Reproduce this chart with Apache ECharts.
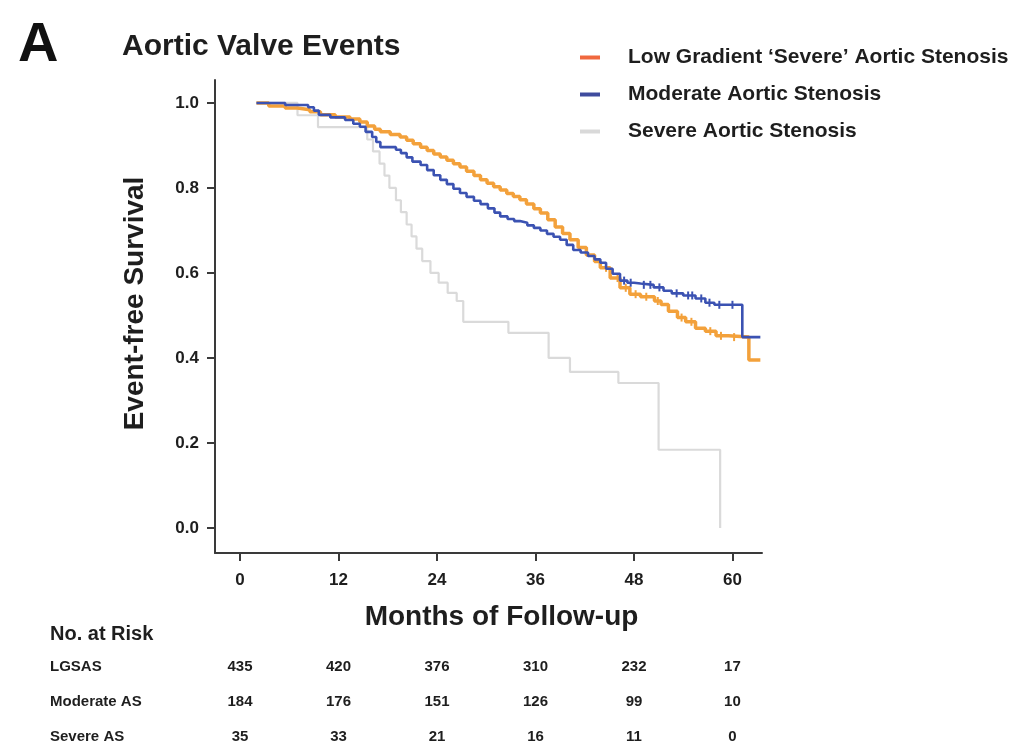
<!DOCTYPE html>
<html>
<head>
<meta charset="utf-8">
<title>Aortic Valve Events</title>
<script src="https://cdn.jsdelivr.net/npm/echarts@6/dist/echarts.min.js"></script>
<style>
  html, body { margin: 0; padding: 0; background: #ffffff; }
  #chart { width: 1017px; height: 747px; }
</style>
</head>
<body>
<div id="chart"></div>
<script>
// Kaplan-Meier step points: [month, event-free survival]
const lgsasCurve = [
  [2.0, 1.0], [3.5, 0.993], [5.5, 0.988], [7.0, 0.984], [8.5, 0.979], [9.8, 0.972],
  [11.6, 0.967], [13.4, 0.962], [14.6, 0.955], [15.5, 0.946], [16.4, 0.938], [17.1, 0.932],
  [18.3, 0.926], [19.5, 0.92], [20.3, 0.912], [21.1, 0.904], [22.0, 0.896], [22.8, 0.888],
  [23.6, 0.88], [24.4, 0.873], [25.2, 0.865], [26.0, 0.857], [26.8, 0.849], [27.6, 0.839],
  [28.5, 0.829], [29.3, 0.819], [30.1, 0.811], [30.9, 0.803], [31.7, 0.795], [32.5, 0.787],
  [33.3, 0.78], [34.1, 0.772], [34.9, 0.762], [35.8, 0.751], [36.6, 0.741], [37.5, 0.725],
  [38.4, 0.708], [39.3, 0.693], [40.2, 0.678], [41.2, 0.66], [42.2, 0.642], [43.2, 0.627],
  [43.9, 0.612], [45.1, 0.588], [46.3, 0.565], [47.5, 0.55], [48.8, 0.544], [50.5, 0.534],
  [51.3, 0.526], [52.2, 0.51], [53.3, 0.495], [54.3, 0.485], [55.5, 0.47], [56.7, 0.463],
  [58.0, 0.452], [59.5, 0.449], [62.0, 0.395], [63.4, 0.395]
];

const moderateCurve = [
  [2.0, 1.0], [5.5, 0.995], [8.3, 0.99], [9.0, 0.982], [9.6, 0.972], [11.0, 0.966],
  [12.8, 0.96], [13.8, 0.951], [14.6, 0.944], [15.3, 0.932], [16.1, 0.92], [16.6, 0.908],
  [17.1, 0.896], [19.0, 0.89], [19.6, 0.882], [20.3, 0.872], [21.0, 0.862], [22.0, 0.854],
  [22.8, 0.842], [23.6, 0.83], [24.4, 0.819], [25.2, 0.809], [26.0, 0.798], [26.8, 0.788],
  [27.6, 0.779], [28.5, 0.77], [29.3, 0.762], [30.2, 0.752], [31.0, 0.742], [31.7, 0.733],
  [32.6, 0.727], [33.4, 0.722], [34.1, 0.718], [35.0, 0.712], [35.8, 0.706], [36.6, 0.70],
  [37.4, 0.692], [38.2, 0.685], [39.0, 0.678], [39.8, 0.666], [40.6, 0.654], [41.5, 0.648],
  [42.4, 0.64], [43.2, 0.632], [43.9, 0.624], [44.6, 0.61], [45.4, 0.598], [46.3, 0.582],
  [47.2, 0.577], [48.0, 0.575], [48.8, 0.572], [50.4, 0.566], [51.6, 0.558], [52.6, 0.552],
  [54.0, 0.547], [55.5, 0.54], [56.7, 0.53], [57.8, 0.525], [61.2, 0.449], [63.4, 0.449]
];

const severeCurve = [
  [2.0, 1.0], [7.0, 0.971], [9.5, 0.943], [15.5, 0.914], [16.2, 0.886], [17.0, 0.857],
  [17.6, 0.829], [18.2, 0.80], [19.0, 0.771], [19.6, 0.743], [20.3, 0.714], [20.9, 0.686],
  [21.5, 0.657], [22.2, 0.628], [23.2, 0.60], [24.2, 0.577], [25.3, 0.553], [26.4, 0.534],
  [27.2, 0.485], [32.7, 0.459], [37.6, 0.40], [40.2, 0.367], [46.1, 0.341], [51.0, 0.184],
  [58.5, 0.0]
];

// Censoring times (months) marked on the curves
const lgsasCensored = [44.6, 46.0, 47.0, 48.2, 49.5, 50.9, 53.8, 55.0, 57.3, 58.6, 60.2];
const moderateCensored = [46.8, 47.6, 49.2, 50.0, 51.1, 53.2, 54.6, 55.1, 56.2, 57.2, 58.4, 60.0];

// Numbers at risk
const riskMonths = [0, 12, 24, 36, 48, 60];
const riskGroups = ['LGSAS', 'Moderate AS', 'Severe AS'];
const riskLGSAS = [435, 420, 376, 310, 232, 17];
const riskModerate = [184, 176, 151, 126, 99, 10];
const riskSevere = [35, 33, 21, 16, 11, 0];

// Axis ticks
const monthTicks = [0, 12, 24, 36, 48, 60];
const survivalTicks = [0, 0.2, 0.4, 0.6, 0.8, 1.0];

const seriesNames = [
  "Low Gradient \u2018Severe\u2019 Aortic Stenosis",
  'Moderate Aortic Stenosis',
  'Severe Aortic Stenosis'
];

const FONT = '"Liberation Sans", Arial, Helvetica, sans-serif';
const INK = '#1e1e1e';
const AXIS = '#3a3a3a';
const ORANGE = '#f3a13b';
const BLUE = '#3b52b2';
const GREY = '#dadada';

const gridLeft = 215, gridRight = 255;
const xMin = -3.05, xMax = 63.6;

// survival value of a step curve at time t
function survivalAt(curve, t) {
  let s = curve[0][1];
  for (const [m, v] of curve) { if (m <= t) s = v; else break; }
  return s;
}
const censorPoints = (curve, times) => times.map(t => [t, survivalAt(curve, t)]);

// risk table cells: [month, row index, count]
const riskRows = [riskLGSAS, riskModerate, riskSevere];
const riskData = [];
riskRows.forEach((row, r) => {
  row.forEach((n, i) => riskData.push([riskMonths[i], r, n]));
});
const rowIndices = riskGroups.map((_, i) => i);

const chart = echarts.init(document.getElementById('chart'), null, { renderer: 'canvas' });

chart.setOption({
  backgroundColor: '#ffffff',
  animation: false,
  textStyle: { fontFamily: FONT },
  graphic: [
    { type: 'text', left: 18, top: 18,
      style: { text: 'A', font: 'bold 56px ' + FONT, fill: '#111' } },
    { type: 'text', left: 122, top: 32,
      style: { text: 'Aortic Valve Events', font: 'bold 30px ' + FONT, fill: INK } },
    { type: 'text', left: 50, top: 624,
      style: { text: 'No. at Risk', font: 'bold 20px ' + FONT, fill: INK } }
  ],
  legend: {
    orient: 'vertical',
    left: 575,
    top: 42,
    itemGap: 16,
    itemWidth: 20,
    itemHeight: 4,
    icon: 'rect',
    textStyle: { fontFamily: FONT, fontWeight: 'bold', fontSize: 21, color: INK, padding: [0, 0, 0, 23] },
    data: [
      { name: seriesNames[0], itemStyle: { color: '#f0683e' } },
      { name: seriesNames[1], itemStyle: { color: '#3f4c9e' } },
      { name: seriesNames[2], itemStyle: { color: '#d9d9d9' } }
    ]
  },
  grid: [
    { left: gridLeft, right: gridRight, top: 80, bottom: 194 },
    { left: gridLeft, right: gridRight, top: 649, bottom: 0 }
  ],
  xAxis: [
    {
      type: 'value', gridIndex: 0, min: xMin, max: xMax,
      name: 'Months of Follow-up', nameLocation: 'middle', nameGap: 50,
      nameTextStyle: { fontFamily: FONT, fontWeight: 'bold', fontSize: 28, color: INK, padding: [0, 0, 0, 26] },
      axisLine: { show: true, onZero: false, lineStyle: { color: AXIS, width: 2 } },
      axisTick: { show: true, length: 8, lineStyle: { color: AXIS, width: 2 }, customValues: monthTicks },
      axisLabel: { customValues: monthTicks, margin: 19, fontFamily: FONT, fontWeight: 'bold', fontSize: 17, color: INK },
      splitLine: { show: false }
    },
    {
      type: 'value', gridIndex: 1, min: xMin, max: xMax, show: false
    }
  ],
  yAxis: [
    {
      type: 'value', gridIndex: 0, min: -0.059, max: 1.054,
      name: 'Event-free Survival', nameLocation: 'middle', nameGap: 66,
      nameTextStyle: { fontFamily: FONT, fontWeight: 'bold', fontSize: 28, color: INK, padding: [0, 0, 0, 26] },
      axisLine: { show: true, onZero: false, lineStyle: { color: AXIS, width: 2 } },
      axisTick: { show: true, length: 8, lineStyle: { color: AXIS, width: 2 }, customValues: survivalTicks },
      axisLabel: {
        customValues: survivalTicks, margin: 16, fontFamily: FONT, fontWeight: 'bold', fontSize: 17, color: INK,
        formatter: v => Number(v).toFixed(1)
      },
      splitLine: { show: false }
    },
    {
      // risk table rows
      type: 'value', gridIndex: 1, min: -0.5, max: 2.3, inverse: true,
      axisLine: { show: false }, axisTick: { show: false }, splitLine: { show: false },
      axisLabel: {
        customValues: rowIndices, formatter: v => riskGroups[Math.round(v)],
        align: 'left', margin: gridLeft - 50, fontFamily: FONT, fontWeight: 'bold', fontSize: 15, color: INK
      }
    }
  ],
  series: [
    {
      name: seriesNames[0], type: 'line', step: 'end', data: lgsasCurve,
      xAxisIndex: 0, yAxisIndex: 0, showSymbol: false, z: 3,
      lineStyle: { color: ORANGE, width: 3.5 }, itemStyle: { color: ORANGE }
    },
    {
      name: seriesNames[1], type: 'line', step: 'end', data: moderateCurve,
      xAxisIndex: 0, yAxisIndex: 0, showSymbol: false, z: 4,
      lineStyle: { color: BLUE, width: 2.6 }, itemStyle: { color: BLUE }
    },
    {
      name: seriesNames[2], type: 'line', step: 'end', data: severeCurve,
      xAxisIndex: 0, yAxisIndex: 0, showSymbol: false, z: 2,
      lineStyle: { color: GREY, width: 2.2 }, itemStyle: { color: GREY }
    },
    {
      name: 'lgsas-censored', type: 'scatter', xAxisIndex: 0, yAxisIndex: 0, z: 3,
      data: censorPoints(lgsasCurve, lgsasCensored), symbol: 'rect', symbolSize: [2, 8],
      itemStyle: { color: ORANGE, opacity: 1 }, silent: true
    },
    {
      name: 'moderate-censored', type: 'scatter', xAxisIndex: 0, yAxisIndex: 0, z: 4,
      data: censorPoints(moderateCurve, moderateCensored), symbol: 'rect', symbolSize: [2, 8],
      itemStyle: { color: BLUE, opacity: 1 }, silent: true
    },
    {
      name: 'risk', type: 'scatter', xAxisIndex: 1, yAxisIndex: 1,
      data: riskData, symbolSize: 0, itemStyle: { color: '#ffffff', opacity: 1 },
      label: {
        show: true, position: 'inside', formatter: p => String(p.value[2]),
        fontFamily: FONT, fontWeight: 'bold', fontSize: 15, color: INK
      },
      silent: true
    }
  ]
});
</script>
</body>
</html>
